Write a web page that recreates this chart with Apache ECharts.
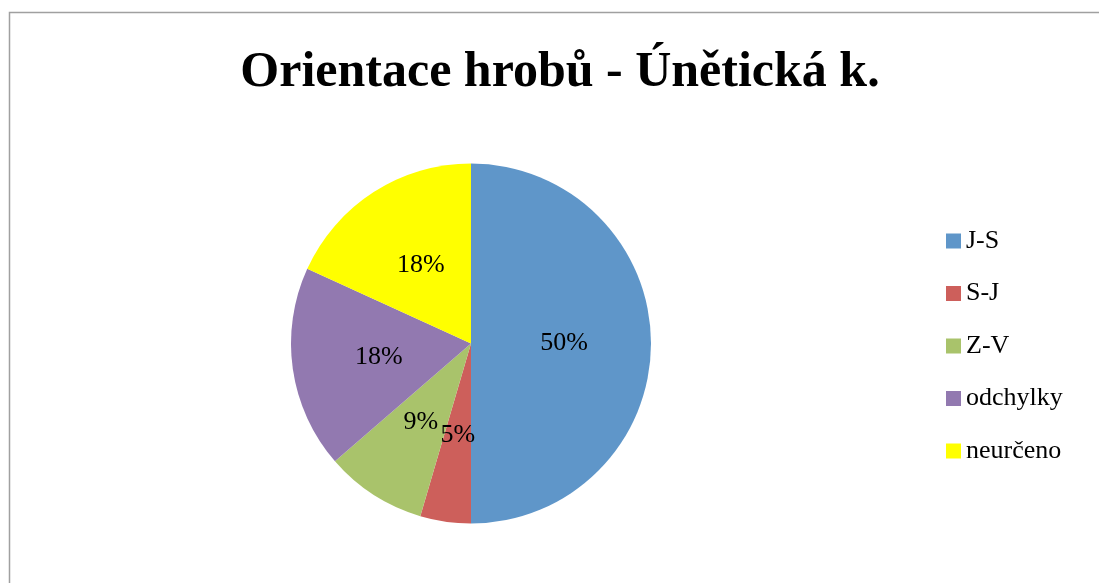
<!DOCTYPE html>
<html>
<head>
<meta charset="utf-8">
<script src="https://cdn.jsdelivr.net/npm/echarts@6/dist/echarts.min.js"></script>
<style>
  html, body { margin: 0; padding: 0; background: #fff; }
  #chart { width: 1099px; height: 583px; }
</style>
</head>
<body>
<div id="chart"></div>
<script>
// orientace hrobů, počty
var categories = ['J-S', 'S-J', 'Z-V', 'odchylky', 'neurčeno']
var counts = [11, 1, 2, 4, 4]
var colors = ['#5f96c9', '#cd5f5b', '#a9c36b', '#9279b0', '#ffff00']

var pieData = []
for (var i = 0; i < categories.length; i++) {
  pieData.push({ name: categories[i], value: counts[i], itemStyle: { color: colors[i] } })
}

var myChart = echarts.init(document.getElementById('chart'))
var option = {
  animation: false,
  title: {
    text: 'Orientace hrobů - Únětická k.',
    left: 560,
    textAlign: 'center',
    top: 48,
    padding: 0,
    textStyle: {
      fontFamily: 'Liberation Serif',
      fontWeight: 'bold',
      fontSize: 50,
      color: '#000'
    }
  },
  graphic: [{
    type: 'rect',
    shape: { x: 9.5, y: 12.5, width: 1200, height: 700 },
    style: { fill: null, stroke: '#a0a0a0', lineWidth: 1.5 },
    silent: true
  }],
  legend: {
    orient: 'vertical',
    left: 946,
    top: 228,
    padding: 0,
    itemWidth: 15,
    itemHeight: 15,
    itemGap: 26.5,
    icon: 'rect',
    textStyle: {
      fontFamily: 'Liberation Serif',
      fontSize: 26,
      color: '#000'
    },
    data: categories
  },
  series: [{
    type: 'pie',
    center: [471, 343.5],
    radius: 180,
    startAngle: 90,
    clockwise: true,
    label: {
      position: 'inside',
      formatter: function (p) { return Math.round(p.percent) + '%' },
      fontFamily: 'Liberation Serif',
      fontSize: 26,
      color: '#000'
    },
    labelLine: { show: false },
    emphasis: { disabled: true },
    itemStyle: { borderWidth: 0 },
    data: pieData
  }]
}
myChart.setOption(option)
</script>
</body>
</html>
